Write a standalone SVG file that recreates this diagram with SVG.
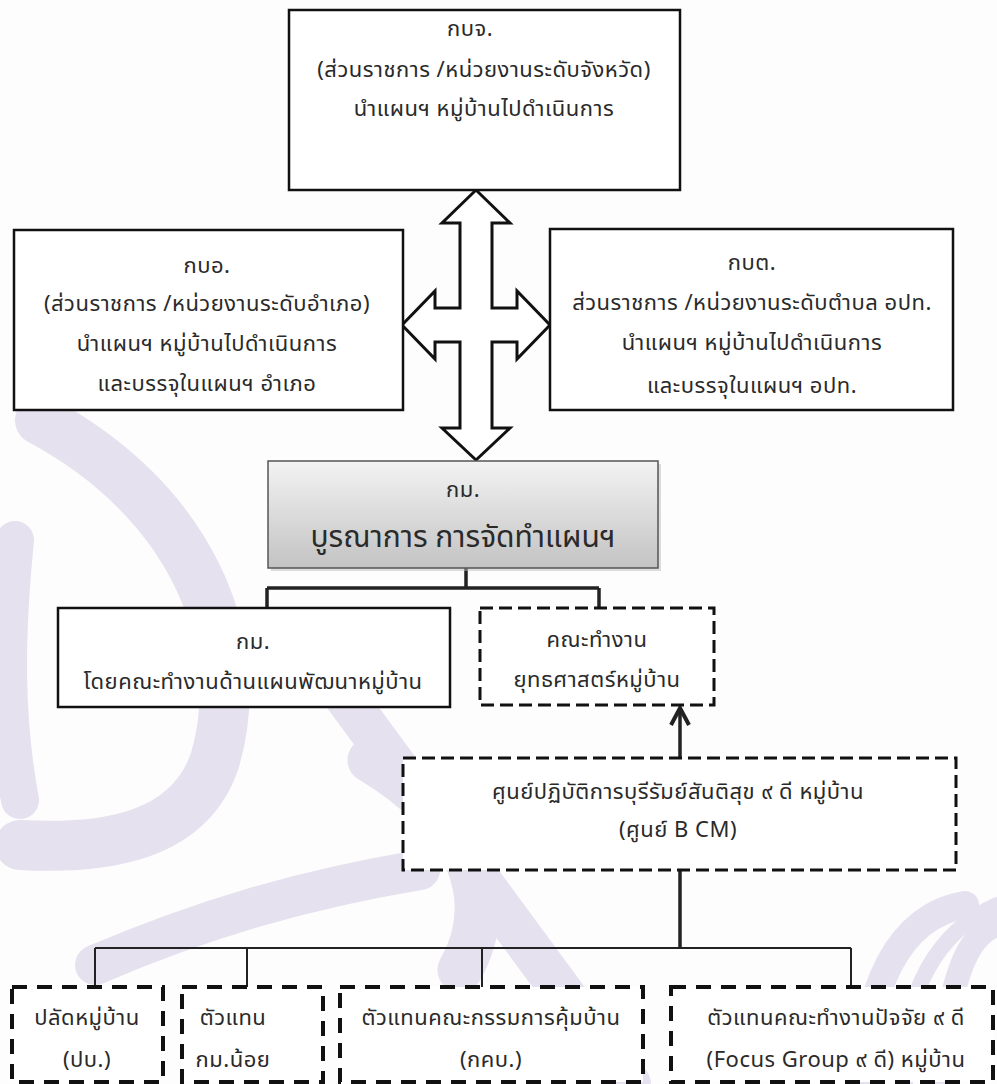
<svg xmlns="http://www.w3.org/2000/svg" width="997" height="1084" viewBox="0 0 997 1084">
<style>
text{font-family:"Noto Sans Thai","Noto Sans Thai UI","Noto Sans","Liberation Sans",sans-serif;font-size:22px;letter-spacing:0.5px;fill:#2a2a2a;text-anchor:middle}
.big{font-size:30px;letter-spacing:0}
.box{fill:#fff;stroke:#111;stroke-width:2.5}
.dash{fill:#fff;stroke:#111;stroke-width:3;stroke-dasharray:13 6}
.dash4{fill:#fff;stroke:#111;stroke-width:4;stroke-dasharray:15 10}
.ln{fill:none;stroke:#222;stroke-width:2}
.lnb{fill:none;stroke:#222;stroke-width:3.5}
.wm{fill:none;stroke:#e6e1ef;stroke-linecap:round}
</style>
<defs>
<linearGradient id="g" x1="0" y1="0" x2="0" y2="1">
<stop offset="0" stop-color="#f3f3f3"/>
<stop offset="1" stop-color="#c3c3c3"/>
</linearGradient>
<marker id="ah" viewBox="0 0 22 22" refX="19" refY="11" markerWidth="22" markerHeight="22" markerUnits="userSpaceOnUse" orient="auto">
<path d="M2 2 L19 11 L2 20" fill="none" stroke="#222" stroke-width="4"/>
</marker>
</defs>
<rect width="997" height="1084" fill="#fdfdfd"/>
<g id="watermark">
<path class="wm" stroke-width="50" d="M40 420 C190 500 250 640 215 760 C190 835 110 850 20 845"/>
<path class="wm" stroke-width="38" d="M15 540 C5 640 5 720 20 800"/>
<path class="wm" stroke-width="42" d="M340 690 L630 1084"/>
<path class="wm" stroke-width="45" d="M370 760 C470 820 500 900 460 970"/>
<path class="wm" stroke-width="40" d="M95 965 C200 920 300 890 420 870"/>
<path class="wm" stroke-width="28" d="M868 1084 C862 990 900 915 965 905"/>
<path class="wm" stroke-width="24" d="M945 1084 C945 990 965 935 997 925"/>
<path class="wm" stroke="#d6ecf5" stroke-width="16" d="M905 1084 C900 990 940 930 997 905"/>
</g>
<g id="connectors">
<path id="bigArrow" d="M476 190 L510 223 L492 223 L492 308 L517 308 L517 291 L550 325 L517 359 L517 342 L492 342 L492 428 L510 428 L476 460 L442 428 L460 428 L460 342 L435 342 L435 359 L402 325 L435 291 L435 308 L460 308 L460 223 L442 223 Z" fill="#fff" stroke="#111" stroke-width="3" stroke-linejoin="miter"/>
<path class="lnb" d="M466 568 V588 M267 588 H599 M267 588 V608 M599 588 V608"/>
<path class="lnb" d="M680 757 V708" marker-end="url(#ah)"/>
<path class="lnb" d="M680 870 V948"/>
<path class="ln" d="M95 948 H851 M95 948 V987 M247 948 V987 M482 948 V987 M851 948 V987"/>
</g>
<g id="n-kbj">
<rect class="box" x="289" y="10" width="391" height="180"/>
<text x="470" y="36">กบจ.</text>
<text x="484" y="77">(ส่วนราชการ /หน่วยงานระดับจังหวัด)</text>
<text x="484" y="116">นำแผนฯ หมู่บ้านไปดำเนินการ</text>
</g>
<g id="n-kbo">
<rect class="box" x="14" y="230" width="389" height="180"/>
<text x="207" y="273">กบอ.</text>
<text x="207" y="311">(ส่วนราชการ /หน่วยงานระดับอำเภอ)</text>
<text x="207" y="351">นำแผนฯ หมู่บ้านไปดำเนินการ</text>
<text x="207" y="391">และบรรจุในแผนฯ อำเภอ</text>
</g>
<g id="n-kbt">
<rect class="box" x="550" y="229" width="403" height="181" stroke-width="3"/>
<text x="752" y="270">กบต.</text>
<text x="752" y="310">ส่วนราชการ /หน่วยงานระดับตำบล อปท.</text>
<text x="752" y="350">นำแผนฯ หมู่บ้านไปดำเนินการ</text>
<text x="752" y="393">และบรรจุในแผนฯ อปท.</text>
</g>
<g id="n-km">
<rect x="271" y="464" width="390" height="107" fill="#bbb" opacity="0.5"/>
<rect x="268" y="461" width="390" height="107" fill="url(#g)" stroke="#555" stroke-width="1.5"/>
<text x="463" y="497">กม.</text>
<text class="big" x="463" y="547">บูรณาการ การจัดทำแผนฯ</text>
</g>
<g id="n-km2">
<rect class="box" x="58" y="608" width="392" height="99" stroke-width="3"/>
<text x="253" y="649">กม.</text>
<text x="253" y="689">โดยคณะทำงานด้านแผนพัฒนาหมู่บ้าน</text>
</g>
<g id="n-team">
<rect class="dash" x="480" y="608" width="234" height="97"/>
<text x="597" y="647">คณะทำงาน</text>
<text x="597" y="687">ยุทธศาสตร์หมู่บ้าน</text>
</g>
<g id="n-bcm">
<rect class="dash" x="403" y="758" width="553" height="112"/>
<text x="678" y="799">ศูนย์ปฏิบัติการบุรีรัมย์สันติสุข ๙ ดี หมู่บ้าน</text>
<text x="678" y="837">(ศูนย์ B CM)</text>
</g>
<g id="n-pb">
<rect class="dash4" x="12" y="987" width="151" height="95"/>
<text x="87" y="1025">ปลัดหมู่บ้าน</text>
<text x="87" y="1067">(ปบ.)</text>
</g>
<g id="n-kmnoi">
<rect class="dash4" x="182" y="987" width="141" height="95"/>
<text x="233" y="1025">ตัวแทน</text>
<text x="233" y="1067">กม.น้อย</text>
</g>
<g id="n-kkb">
<rect class="dash4" x="340" y="987" width="303" height="95"/>
<text x="491" y="1025">ตัวแทนคณะกรรมการคุ้มบ้าน</text>
<text x="491" y="1067">(กคบ.)</text>
</g>
<g id="n-focus">
<rect class="dash4" x="671" y="987" width="322" height="95"/>
<text x="836" y="1025">ตัวแทนคณะทำงานปัจจัย ๙ ดี</text>
<text x="836" y="1067">(Focus Group ๙ ดี) หมู่บ้าน</text>
</g>
</svg>
